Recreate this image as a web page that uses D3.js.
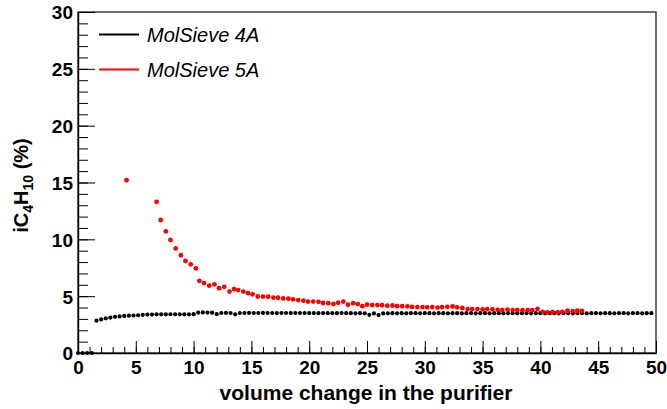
<!DOCTYPE html>
<html>
<head>
<meta charset="utf-8">
<script src="https://cdn.jsdelivr.net/npm/d3@7"></script>
<style>
  body { margin: 0; background: #fff; }
  text { font-family: "Liberation Sans", Arial, Helvetica, sans-serif; }
</style>
</head>
<body>
<div id="chart"></div>
<script>

// MolSieve 4A : [volume change, iC4H10 %]
var sieve4A = [
  [0.0,0], [0.4,0], [0.8,0], [1.2,0],
  [1.6,2.84], [2.0,2.95], [2.4,3.05], [2.8,3.12], [3.2,3.18], [3.6,3.22], [4.0,3.26], [4.4,3.28],
  [4.8,3.30], [5.2,3.32], [5.6,3.36], [6.0,3.38], [6.4,3.38], [6.8,3.40], [7.2,3.40], [7.6,3.40],
  [8.0,3.41], [8.4,3.40], [8.8,3.41], [9.2,3.40], [9.6,3.40], [10.0,3.42], [10.4,3.55], [10.8,3.57],
  [11.2,3.56], [11.6,3.55], [12.0,3.42], [12.4,3.52], [12.8,3.53], [13.2,3.52], [13.6,3.40], [14.0,3.52],
  [14.4,3.52], [14.8,3.53], [15.2,3.52], [15.6,3.52], [16.0,3.53], [16.4,3.52], [16.8,3.52], [17.2,3.51],
  [17.6,3.52], [18.0,3.52], [18.4,3.51], [18.8,3.52], [19.2,3.52], [19.6,3.51], [20.0,3.50], [20.4,3.51],
  [20.8,3.50], [21.2,3.51], [21.6,3.50], [22.0,3.50], [22.4,3.50], [22.8,3.51], [23.2,3.50], [23.6,3.50],
  [24.0,3.49], [24.4,3.50], [24.8,3.49], [25.2,3.36], [25.6,3.48], [26.0,3.34], [26.4,3.48], [26.8,3.49],
  [27.2,3.50], [27.6,3.49], [28.0,3.50], [28.4,3.49], [28.8,3.50], [29.2,3.50], [29.6,3.49], [30.0,3.50],
  [30.4,3.50], [30.8,3.49], [31.2,3.50], [31.6,3.50], [32.0,3.49], [32.4,3.50], [32.8,3.50], [33.2,3.49],
  [33.6,3.50], [34.0,3.50], [34.4,3.49], [34.8,3.50], [35.2,3.50], [35.6,3.49], [36.0,3.50], [36.4,3.50],
  [36.8,3.49], [37.2,3.50], [37.6,3.50], [38.0,3.49], [38.4,3.50], [38.8,3.50], [39.2,3.49], [39.6,3.50],
  [40.0,3.50], [40.4,3.49], [40.8,3.50], [41.2,3.50], [41.6,3.49], [42.0,3.50], [42.4,3.50], [42.8,3.49],
  [43.2,3.50], [43.6,3.50], [44.0,3.49], [44.4,3.50], [44.8,3.50], [45.2,3.49], [45.6,3.50], [46.0,3.50],
  [46.4,3.49], [46.8,3.50], [47.2,3.50], [47.6,3.49], [48.0,3.50], [48.4,3.50], [48.8,3.49], [49.2,3.50],
  [49.6,3.50]
];

// MolSieve 5A
var sieve5A = [
  [4.2,15.2], [6.8,13.3], [7.15,11.7], [7.6,10.7], [8.0,9.95], [8.45,9.2], [8.9,8.6], [9.3,8.1],
  [9.75,7.8], [10.2,7.45], [10.5,6.35], [10.9,6.15], [11.35,5.92], [11.8,6.03], [12.2,5.7], [12.65,5.82],
  [13.1,5.4], [13.5,5.62], [13.85,5.54], [14.3,5.4], [14.7,5.26], [15.1,5.16], [15.55,4.97], [16.0,4.96],
  [16.45,4.95], [16.9,4.88], [17.3,4.86], [17.75,4.8], [18.2,4.78], [18.6,4.72], [19.05,4.66], [19.5,4.6],
  [19.9,4.52], [20.35,4.52], [20.8,4.5], [21.2,4.4], [21.65,4.38], [22.1,4.32], [22.5,4.42], [22.95,4.52],
  [23.35,4.25], [23.8,4.38], [24.2,4.3], [24.6,4.12], [25.0,4.25], [25.45,4.22], [25.9,4.22], [26.3,4.2],
  [26.75,4.16], [27.2,4.18], [27.6,4.12], [28.05,4.12], [28.5,4.1], [28.9,4.05], [29.35,4.04], [29.8,4.04],
  [30.2,4.02], [30.65,4.04], [31.1,4.0], [31.5,4.04], [31.95,4.06], [32.4,4.1], [32.8,4.02], [33.25,3.96],
  [33.7,3.86], [34.1,3.86], [34.55,3.86], [35.0,3.84], [35.4,3.86], [35.85,3.84], [36.3,3.8], [36.7,3.78],
  [37.15,3.82], [37.6,3.78], [38.0,3.78], [38.45,3.76], [38.9,3.78], [39.3,3.78], [39.75,3.88], [40.2,3.62],
  [40.6,3.58], [41.05,3.6], [41.5,3.58], [41.9,3.62], [42.35,3.72], [42.8,3.68], [43.2,3.72], [43.6,3.7]
];

var xTicks = [0, 5, 10, 15, 20, 25, 30, 35, 40, 45, 50];
var yTicks = [0, 5, 10, 15, 20, 25, 30];
var legendNames = ["MolSieve 4A", "MolSieve 5A"];
var seriesColors = ["#000000", "#ff0000"];

var width = 667, height = 409;
var margin = {top: 12, right: 11, bottom: 56, left: 78};
var plotW = width - margin.left - margin.right;
var plotH = height - margin.top - margin.bottom;

var svg = d3.select("#chart").append("svg")
  .attr("width", width)
  .attr("height", height);

var g = svg.append("g")
  .attr("transform", "translate(" + margin.left + "," + margin.top + ")");

var x = d3.scaleLinear().domain([0, 50]).range([0, plotW]);
var y = d3.scaleLinear().domain([0, 30]).range([plotH, 0]);

// frame
g.append("rect")
  .attr("width", plotW)
  .attr("height", plotH)
  .attr("fill", "none")
  .attr("stroke", "#333")
  .attr("stroke-width", 1.4);

// minor ticks (inside the frame)
g.append("g")
  .attr("transform", "translate(0," + plotH + ")")
  .call(d3.axisBottom(x).ticks(50).tickSize(-6).tickFormat(""))
  .call(function(a) { a.select(".domain").remove(); });

g.append("g")
  .call(d3.axisLeft(y).ticks(30).tickSize(-10).tickFormat(""))
  .call(function(a) { a.select(".domain").remove(); });

// major ticks + labels
var xAxis = g.append("g")
  .attr("transform", "translate(0," + plotH + ")")
  .call(d3.axisBottom(x).tickValues(xTicks).tickSize(-12).tickPadding(6).tickSizeOuter(0));

var yAxis = g.append("g")
  .call(d3.axisLeft(y).tickValues(yTicks).tickSize(-17).tickPadding(5).tickSizeOuter(0));

[xAxis, yAxis].forEach(function(a) {
  a.selectAll("text")
    .attr("fill", "#000")
    .style("font-size", "19px")
    .style("font-weight", "bold");
  a.select(".domain").attr("stroke", "#000").attr("stroke-width", 1.4);
});
xAxis.selectAll("text").attr("dy", "0.8em");
yAxis.selectAll("text").attr("dy", "0.36em");

// axis titles
g.append("text")
  .attr("x", plotW / 2 - 1)
  .attr("y", plotH + 47)
  .attr("text-anchor", "middle")
  .style("font-size", "21px")
  .style("font-weight", "bold")
  .text("volume change in the purifier");

var yt = svg.append("text")
  .attr("transform", "translate(28," + (margin.top + plotH / 2 + 3) + ") rotate(-90)")
  .attr("text-anchor", "middle")
  .style("font-size", "20px")
  .style("font-weight", "bold");
yt.append("tspan").text("iC");
yt.append("tspan").attr("dy", 5).style("font-size", "14px").text("4");
yt.append("tspan").attr("dy", -5).text("H");
yt.append("tspan").attr("dy", 5).style("font-size", "14px").text("10");
yt.append("tspan").attr("dy", -5).text(" (%)");

// data points
[sieve4A, sieve5A].forEach(function(series, i) {
  g.append("g").selectAll("circle")
    .data(series)
    .enter().append("circle")
    .attr("cx", function(d) { return x(d[0]); })
    .attr("cy", function(d) { return y(d[1]); })
    .attr("r", i === 0 ? 2.1 : 2.4)
    .attr("fill", seriesColors[i]);
});

// legend
var legend = svg.append("g");
legendNames.forEach(function(name, i) {
  var ly = 34.5 + i * 35;
  legend.append("line")
    .attr("x1", 99).attr("x2", 139)
    .attr("y1", ly).attr("y2", ly)
    .attr("stroke", seriesColors[i])
    .attr("stroke-width", 2);
  legend.append("text")
    .attr("x", 147)
    .attr("y", ly + 7)
    .style("font-size", "20px")
    .style("font-style", "italic")
    .text(name);
});

</script>
</body>
</html>
